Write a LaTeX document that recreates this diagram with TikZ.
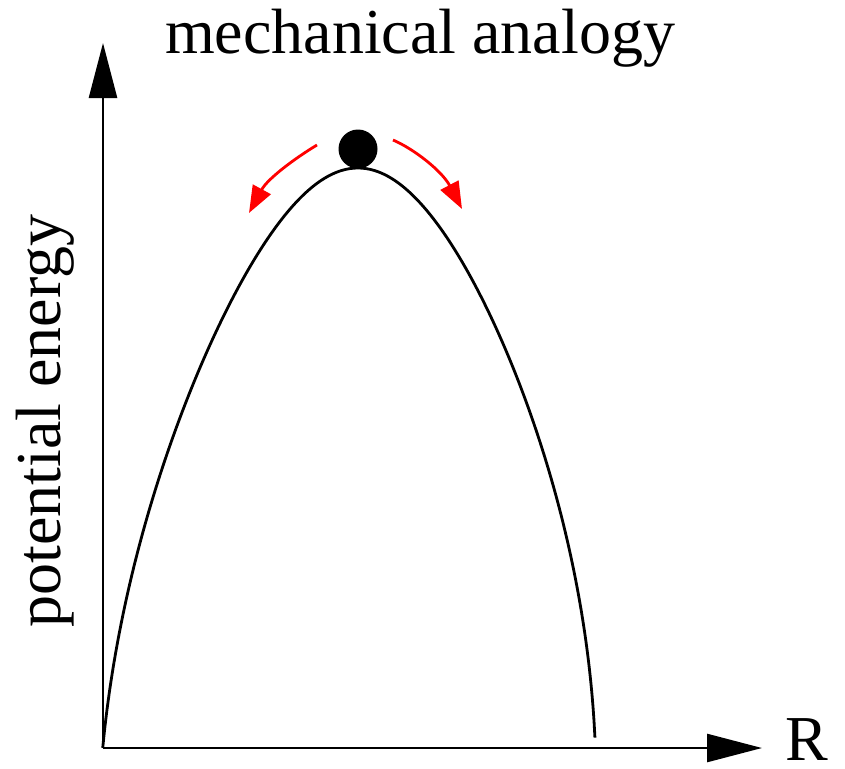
\documentclass[tikz,border=0pt]{standalone}
\usepackage{fontspec}
\setmainfont{Liberation Serif}
\usetikzlibrary{arrows.meta}
\begin{document}
\begin{tikzpicture}[x=1pt,y=-1pt,
  axis/.style={line width=2.6pt,-{Triangle[length=55pt,width=28pt]}},
  curve/.style={line width=2.8pt,line join=round},
  roll/.style={red,line width=2.8pt,-{Triangle[length=27pt,width=20pt]}},
  label/.style={font=\fontsize{64}{72}\selectfont,inner sep=0pt,anchor=base}]
\useasboundingbox (0,0) rectangle (845,768);
\coordinate (O) at (103,748);
\coordinate (Ytip) at (103,43);
\coordinate (Xtip) at (762,748);
\coordinate (peak) at (358,168);
\draw[axis] (O) -- (Ytip);
\draw[axis] (O) -- (Xtip);
\draw[curve]
  plot[smooth,domain=2.408:0,samples=60,variable=\tt]
    ({358-(11.3-0.096*(\tt*\tt-3.1)*(\tt*\tt-3.1))*10*\tt},{168+100*\tt*\tt})
  -- plot[smooth,domain=0:2.3875,samples=60,variable=\tt]
    ({358+(11.0-0.105*(\tt*\tt-2.5)*(\tt*\tt-2.5))*10*\tt},{168+100*\tt*\tt});
\fill (358,149) circle[radius=19.5pt] coordinate (ball);
\coordinate (la) at (317,145);
\coordinate (lb) at (249,213);
\coordinate (ra) at (393,140);
\coordinate (rb) at (462,209);
\draw[roll] (la) .. controls (297,157) and (268,178) .. (lb);
\draw[roll] (ra) .. controls (414,149) and (442,171) .. (rb);
\node[label] (title) at (420,53) {mechanical analogy};
\node[label] (R) at (807,760) {R};
\node[label,rotate=90] (pe) at (60,421) {potential energy};
\end{tikzpicture}
\end{document}
